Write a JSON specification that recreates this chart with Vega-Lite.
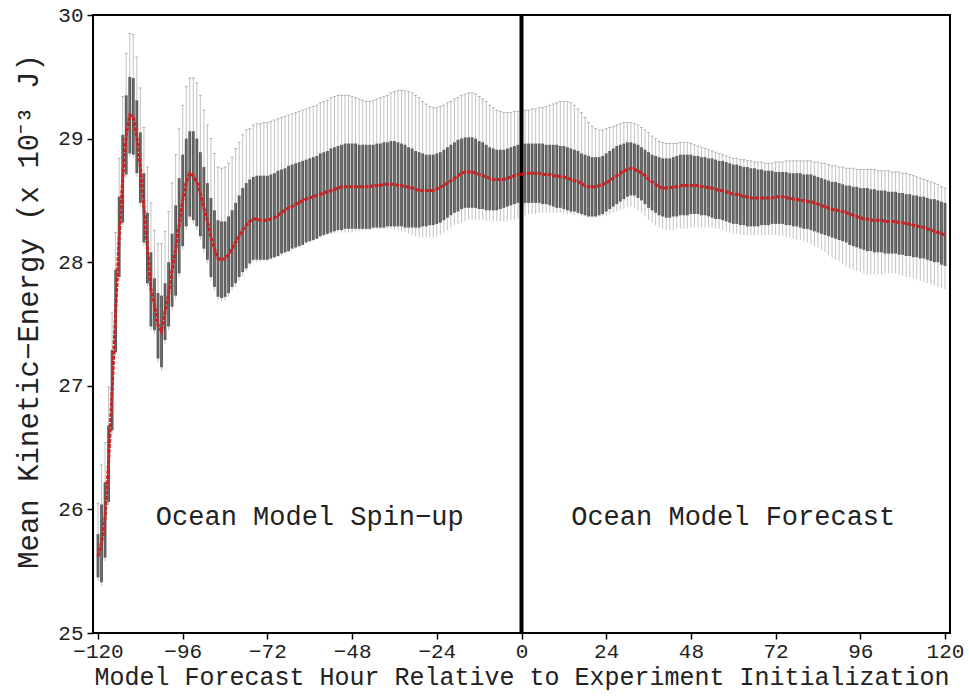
{
  "$schema": "https://vega.github.io/schema/vega-lite/v6.json",
  "width": 857,
  "height": 618,
  "autosize": {"type": "none"},
  "padding": {"left": 93, "top": 15, "right": 19, "bottom": 63},
  "background": "white",
  "config": {
    "view": {"stroke": "black", "strokeWidth": 2},
    "axis": {
      "grid": false,
      "domain": false,
      "tickColor": "black",
      "tickSize": 6,
      "tickWidth": 1.5,
      "labelFont": "Liberation Mono",
      "labelFontSize": 21,
      "labelColor": "#222",
      "titleFont": "Liberation Mono",
      "titleFontWeight": "normal",
      "titleColor": "#222"
    }
  },
  "datasets": {
    "ke": [
      {"h":-120,"lo":25.42,"q1":25.45,"m":25.62,"q3":25.80,"hi":26.05},
      {"h":-119,"lo":25.38,"q1":25.41,"m":25.73,"q3":26.04,"hi":26.36},
      {"h":-118,"lo":25.58,"q1":25.61,"m":25.93,"q3":26.22,"hi":26.54},
      {"h":-117,"lo":26.03,"q1":26.06,"m":26.38,"q3":26.68,"hi":26.99},
      {"h":-116,"lo":26.61,"q1":26.64,"m":26.97,"q3":27.29,"hi":27.59},
      {"h":-115,"lo":27.24,"q1":27.27,"m":27.60,"q3":27.94,"hi":28.24},
      {"h":-114,"lo":27.85,"q1":27.88,"m":28.20,"q3":28.53,"hi":28.84},
      {"h":-113,"lo":28.29,"q1":28.32,"m":28.68,"q3":29.03,"hi":29.34},
      {"h":-112,"lo":28.68,"q1":28.71,"m":29.03,"q3":29.35,"hi":29.69},
      {"h":-111,"lo":28.85,"q1":28.88,"m":29.19,"q3":29.50,"hi":29.85},
      {"h":-110,"lo":28.84,"q1":28.87,"m":29.18,"q3":29.49,"hi":29.84},
      {"h":-109,"lo":28.69,"q1":28.72,"m":29.01,"q3":29.31,"hi":29.66},
      {"h":-108,"lo":28.45,"q1":28.48,"m":28.77,"q3":29.05,"hi":29.41},
      {"h":-107,"lo":28.13,"q1":28.16,"m":28.44,"q3":28.72,"hi":29.09},
      {"h":-106,"lo":27.80,"q1":27.83,"m":28.12,"q3":28.40,"hi":28.77},
      {"h":-105,"lo":27.45,"q1":27.48,"m":27.78,"q3":28.08,"hi":28.48},
      {"h":-104,"lo":27.42,"q1":27.45,"m":27.66,"q3":27.87,"hi":28.26},
      {"h":-103,"lo":27.19,"q1":27.22,"m":27.49,"q3":27.75,"hi":28.15},
      {"h":-102,"lo":27.12,"q1":27.15,"m":27.44,"q3":27.73,"hi":28.15},
      {"h":-101,"lo":27.34,"q1":27.37,"m":27.60,"q3":27.83,"hi":28.25},
      {"h":-100,"lo":27.45,"q1":27.48,"m":27.74,"q3":28.00,"hi":28.41},
      {"h":-99,"lo":27.61,"q1":27.64,"m":27.94,"q3":28.23,"hi":28.64},
      {"h":-98,"lo":27.70,"q1":27.73,"m":28.10,"q3":28.46,"hi":28.87},
      {"h":-97,"lo":27.88,"q1":27.91,"m":28.30,"q3":28.68,"hi":29.08},
      {"h":-96,"lo":28.10,"q1":28.13,"m":28.50,"q3":28.87,"hi":29.27},
      {"h":-95,"lo":28.26,"q1":28.29,"m":28.65,"q3":29.00,"hi":29.42},
      {"h":-94,"lo":28.34,"q1":28.37,"m":28.72,"q3":29.06,"hi":29.49},
      {"h":-93,"lo":28.31,"q1":28.34,"m":28.70,"q3":29.06,"hi":29.49},
      {"h":-92,"lo":28.26,"q1":28.29,"m":28.65,"q3":29.00,"hi":29.45},
      {"h":-91,"lo":28.18,"q1":28.21,"m":28.55,"q3":28.89,"hi":29.35},
      {"h":-90,"lo":28.08,"q1":28.11,"m":28.44,"q3":28.77,"hi":29.23},
      {"h":-89,"lo":27.99,"q1":28.02,"m":28.33,"q3":28.64,"hi":29.11},
      {"h":-88,"lo":27.85,"q1":27.88,"m":28.20,"q3":28.52,"hi":29.00},
      {"h":-87,"lo":27.77,"q1":27.80,"m":28.11,"q3":28.42,"hi":28.88},
      {"h":-86,"lo":27.69,"q1":27.72,"m":28.03,"q3":28.34,"hi":28.77},
      {"h":-85,"lo":27.68,"q1":27.71,"m":28.02,"q3":28.33,"hi":28.76},
      {"h":-84,"lo":27.69,"q1":27.72,"m":28.03,"q3":28.33,"hi":28.77},
      {"h":-83,"lo":27.72,"q1":27.75,"m":28.06,"q3":28.37,"hi":28.80},
      {"h":-82,"lo":27.77,"q1":27.80,"m":28.11,"q3":28.42,"hi":28.85},
      {"h":-81,"lo":27.80,"q1":27.83,"m":28.16,"q3":28.48,"hi":28.92},
      {"h":-80,"lo":27.85,"q1":27.88,"m":28.21,"q3":28.54,"hi":28.97},
      {"h":-79,"lo":27.89,"q1":27.92,"m":28.26,"q3":28.60,"hi":29.03},
      {"h":-78,"lo":27.93,"q1":27.95,"m":28.30,"q3":28.64,"hi":29.07},
      {"h":-77,"lo":27.97,"q1":27.99,"m":28.33,"q3":28.67,"hi":29.08},
      {"h":-76,"lo":28.00,"q1":28.02,"m":28.35,"q3":28.69,"hi":29.11},
      {"h":-75,"lo":28.00,"q1":28.02,"m":28.35,"q3":28.70,"hi":29.12},
      {"h":-74,"lo":28.00,"q1":28.02,"m":28.34,"q3":28.70,"hi":29.12},
      {"h":-73,"lo":28.01,"q1":28.02,"m":28.34,"q3":28.70,"hi":29.13},
      {"h":-72,"lo":28.01,"q1":28.02,"m":28.34,"q3":28.70,"hi":29.13},
      {"h":-71,"lo":28.02,"q1":28.03,"m":28.35,"q3":28.71,"hi":29.14},
      {"h":-70,"lo":28.03,"q1":28.04,"m":28.36,"q3":28.72,"hi":29.15},
      {"h":-69,"lo":28.04,"q1":28.05,"m":28.38,"q3":28.74,"hi":29.16},
      {"h":-68,"lo":28.05,"q1":28.07,"m":28.40,"q3":28.75,"hi":29.17},
      {"h":-67,"lo":28.07,"q1":28.08,"m":28.42,"q3":28.76,"hi":29.18},
      {"h":-66,"lo":28.08,"q1":28.09,"m":28.44,"q3":28.78,"hi":29.19},
      {"h":-65,"lo":28.10,"q1":28.11,"m":28.45,"q3":28.79,"hi":29.20},
      {"h":-64,"lo":28.11,"q1":28.12,"m":28.47,"q3":28.80,"hi":29.21},
      {"h":-63,"lo":28.12,"q1":28.13,"m":28.48,"q3":28.81,"hi":29.22},
      {"h":-62,"lo":28.14,"q1":28.14,"m":28.50,"q3":28.82,"hi":29.23},
      {"h":-61,"lo":28.15,"q1":28.16,"m":28.51,"q3":28.83,"hi":29.24},
      {"h":-60,"lo":28.16,"q1":28.17,"m":28.52,"q3":28.84,"hi":29.25},
      {"h":-59,"lo":28.17,"q1":28.18,"m":28.53,"q3":28.85,"hi":29.26},
      {"h":-58,"lo":28.19,"q1":28.19,"m":28.54,"q3":28.86,"hi":29.27},
      {"h":-57,"lo":28.20,"q1":28.21,"m":28.55,"q3":28.88,"hi":29.29},
      {"h":-56,"lo":28.21,"q1":28.22,"m":28.56,"q3":28.89,"hi":29.30},
      {"h":-55,"lo":28.22,"q1":28.23,"m":28.57,"q3":28.90,"hi":29.31},
      {"h":-54,"lo":28.23,"q1":28.24,"m":28.58,"q3":28.92,"hi":29.33},
      {"h":-53,"lo":28.23,"q1":28.25,"m":28.59,"q3":28.93,"hi":29.34},
      {"h":-52,"lo":28.24,"q1":28.26,"m":28.60,"q3":28.94,"hi":29.35},
      {"h":-51,"lo":28.24,"q1":28.26,"m":28.61,"q3":28.95,"hi":29.35},
      {"h":-50,"lo":28.24,"q1":28.27,"m":28.61,"q3":28.96,"hi":29.35},
      {"h":-49,"lo":28.24,"q1":28.27,"m":28.61,"q3":28.96,"hi":29.35},
      {"h":-48,"lo":28.24,"q1":28.27,"m":28.61,"q3":28.96,"hi":29.34},
      {"h":-47,"lo":28.25,"q1":28.27,"m":28.61,"q3":28.96,"hi":29.33},
      {"h":-46,"lo":28.25,"q1":28.27,"m":28.61,"q3":28.95,"hi":29.32},
      {"h":-45,"lo":28.26,"q1":28.27,"m":28.61,"q3":28.95,"hi":29.31},
      {"h":-44,"lo":28.26,"q1":28.27,"m":28.61,"q3":28.95,"hi":29.30},
      {"h":-43,"lo":28.26,"q1":28.27,"m":28.61,"q3":28.95,"hi":29.30},
      {"h":-42,"lo":28.27,"q1":28.28,"m":28.62,"q3":28.95,"hi":29.31},
      {"h":-41,"lo":28.27,"q1":28.28,"m":28.62,"q3":28.96,"hi":29.32},
      {"h":-40,"lo":28.27,"q1":28.28,"m":28.62,"q3":28.96,"hi":29.33},
      {"h":-39,"lo":28.27,"q1":28.28,"m":28.63,"q3":28.97,"hi":29.34},
      {"h":-38,"lo":28.27,"q1":28.29,"m":28.63,"q3":28.97,"hi":29.35},
      {"h":-37,"lo":28.27,"q1":28.29,"m":28.63,"q3":28.98,"hi":29.37},
      {"h":-36,"lo":28.26,"q1":28.29,"m":28.63,"q3":28.98,"hi":29.38},
      {"h":-35,"lo":28.26,"q1":28.29,"m":28.62,"q3":28.97,"hi":29.39},
      {"h":-34,"lo":28.25,"q1":28.29,"m":28.62,"q3":28.96,"hi":29.39},
      {"h":-33,"lo":28.24,"q1":28.28,"m":28.61,"q3":28.95,"hi":29.39},
      {"h":-32,"lo":28.23,"q1":28.28,"m":28.61,"q3":28.93,"hi":29.38},
      {"h":-31,"lo":28.22,"q1":28.28,"m":28.60,"q3":28.92,"hi":29.37},
      {"h":-30,"lo":28.21,"q1":28.28,"m":28.59,"q3":28.90,"hi":29.35},
      {"h":-29,"lo":28.20,"q1":28.28,"m":28.58,"q3":28.89,"hi":29.33},
      {"h":-28,"lo":28.20,"q1":28.29,"m":28.58,"q3":28.88,"hi":29.30},
      {"h":-27,"lo":28.20,"q1":28.29,"m":28.58,"q3":28.87,"hi":29.28},
      {"h":-26,"lo":28.20,"q1":28.30,"m":28.58,"q3":28.87,"hi":29.26},
      {"h":-25,"lo":28.20,"q1":28.30,"m":28.58,"q3":28.87,"hi":29.25},
      {"h":-24,"lo":28.21,"q1":28.31,"m":28.59,"q3":28.88,"hi":29.25},
      {"h":-23,"lo":28.22,"q1":28.32,"m":28.61,"q3":28.89,"hi":29.26},
      {"h":-22,"lo":28.24,"q1":28.34,"m":28.62,"q3":28.91,"hi":29.27},
      {"h":-21,"lo":28.26,"q1":28.36,"m":28.64,"q3":28.93,"hi":29.29},
      {"h":-20,"lo":28.28,"q1":28.38,"m":28.66,"q3":28.95,"hi":29.30},
      {"h":-19,"lo":28.30,"q1":28.40,"m":28.68,"q3":28.97,"hi":29.32},
      {"h":-18,"lo":28.31,"q1":28.41,"m":28.70,"q3":28.99,"hi":29.33},
      {"h":-17,"lo":28.32,"q1":28.43,"m":28.72,"q3":29.00,"hi":29.35},
      {"h":-16,"lo":28.33,"q1":28.44,"m":28.73,"q3":29.01,"hi":29.36},
      {"h":-15,"lo":28.34,"q1":28.44,"m":28.73,"q3":29.01,"hi":29.37},
      {"h":-14,"lo":28.34,"q1":28.44,"m":28.73,"q3":29.01,"hi":29.37},
      {"h":-13,"lo":28.34,"q1":28.44,"m":28.72,"q3":29.00,"hi":29.36},
      {"h":-12,"lo":28.34,"q1":28.43,"m":28.71,"q3":28.98,"hi":29.34},
      {"h":-11,"lo":28.34,"q1":28.43,"m":28.70,"q3":28.97,"hi":29.32},
      {"h":-10,"lo":28.33,"q1":28.42,"m":28.69,"q3":28.95,"hi":29.30},
      {"h":-9,"lo":28.33,"q1":28.42,"m":28.68,"q3":28.93,"hi":29.27},
      {"h":-8,"lo":28.33,"q1":28.42,"m":28.67,"q3":28.92,"hi":29.25},
      {"h":-7,"lo":28.33,"q1":28.42,"m":28.67,"q3":28.91,"hi":29.23},
      {"h":-6,"lo":28.33,"q1":28.43,"m":28.67,"q3":28.91,"hi":29.22},
      {"h":-5,"lo":28.33,"q1":28.44,"m":28.67,"q3":28.91,"hi":29.21},
      {"h":-4,"lo":28.33,"q1":28.45,"m":28.68,"q3":28.92,"hi":29.21},
      {"h":-3,"lo":28.34,"q1":28.46,"m":28.69,"q3":28.93,"hi":29.21},
      {"h":-2,"lo":28.34,"q1":28.47,"m":28.70,"q3":28.94,"hi":29.22},
      {"h":-1,"lo":28.35,"q1":28.48,"m":28.71,"q3":28.95,"hi":29.22},
      {"h":0,"lo":28.35,"q1":28.48,"m":28.71,"q3":28.96,"hi":29.22},
      {"h":1,"lo":28.38,"q1":28.48,"m":28.72,"q3":28.96,"hi":29.23},
      {"h":2,"lo":28.39,"q1":28.48,"m":28.72,"q3":28.96,"hi":29.23},
      {"h":3,"lo":28.39,"q1":28.48,"m":28.72,"q3":28.96,"hi":29.24},
      {"h":4,"lo":28.39,"q1":28.48,"m":28.72,"q3":28.96,"hi":29.24},
      {"h":5,"lo":28.40,"q1":28.48,"m":28.72,"q3":28.96,"hi":29.25},
      {"h":6,"lo":28.40,"q1":28.47,"m":28.71,"q3":28.96,"hi":29.25},
      {"h":7,"lo":28.40,"q1":28.47,"m":28.71,"q3":28.95,"hi":29.26},
      {"h":8,"lo":28.40,"q1":28.46,"m":28.71,"q3":28.95,"hi":29.27},
      {"h":9,"lo":28.40,"q1":28.45,"m":28.70,"q3":28.95,"hi":29.28},
      {"h":10,"lo":28.40,"q1":28.44,"m":28.70,"q3":28.95,"hi":29.29},
      {"h":11,"lo":28.40,"q1":28.44,"m":28.69,"q3":28.94,"hi":29.30},
      {"h":12,"lo":28.40,"q1":28.43,"m":28.69,"q3":28.94,"hi":29.30},
      {"h":13,"lo":28.39,"q1":28.42,"m":28.68,"q3":28.93,"hi":29.30},
      {"h":14,"lo":28.39,"q1":28.41,"m":28.67,"q3":28.92,"hi":29.29},
      {"h":15,"lo":28.38,"q1":28.41,"m":28.66,"q3":28.91,"hi":29.27},
      {"h":16,"lo":28.38,"q1":28.40,"m":28.65,"q3":28.90,"hi":29.24},
      {"h":17,"lo":28.37,"q1":28.39,"m":28.64,"q3":28.88,"hi":29.21},
      {"h":18,"lo":28.37,"q1":28.38,"m":28.62,"q3":28.87,"hi":29.17},
      {"h":19,"lo":28.36,"q1":28.37,"m":28.61,"q3":28.86,"hi":29.13},
      {"h":20,"lo":28.36,"q1":28.37,"m":28.61,"q3":28.85,"hi":29.10},
      {"h":21,"lo":28.36,"q1":28.37,"m":28.61,"q3":28.85,"hi":29.08},
      {"h":22,"lo":28.37,"q1":28.38,"m":28.62,"q3":28.85,"hi":29.07},
      {"h":23,"lo":28.37,"q1":28.39,"m":28.63,"q3":28.86,"hi":29.07},
      {"h":24,"lo":28.38,"q1":28.41,"m":28.64,"q3":28.88,"hi":29.08},
      {"h":25,"lo":28.39,"q1":28.43,"m":28.66,"q3":28.90,"hi":29.09},
      {"h":26,"lo":28.40,"q1":28.45,"m":28.68,"q3":28.92,"hi":29.10},
      {"h":27,"lo":28.41,"q1":28.47,"m":28.70,"q3":28.94,"hi":29.11},
      {"h":28,"lo":28.42,"q1":28.49,"m":28.72,"q3":28.95,"hi":29.12},
      {"h":29,"lo":28.43,"q1":28.51,"m":28.74,"q3":28.96,"hi":29.13},
      {"h":30,"lo":28.45,"q1":28.53,"m":28.75,"q3":28.97,"hi":29.13},
      {"h":31,"lo":28.45,"q1":28.54,"m":28.76,"q3":28.97,"hi":29.13},
      {"h":32,"lo":28.44,"q1":28.54,"m":28.75,"q3":28.96,"hi":29.12},
      {"h":33,"lo":28.42,"q1":28.52,"m":28.74,"q3":28.95,"hi":29.11},
      {"h":34,"lo":28.40,"q1":28.50,"m":28.72,"q3":28.93,"hi":29.09},
      {"h":35,"lo":28.37,"q1":28.47,"m":28.70,"q3":28.91,"hi":29.07},
      {"h":36,"lo":28.34,"q1":28.44,"m":28.67,"q3":28.89,"hi":29.05},
      {"h":37,"lo":28.32,"q1":28.42,"m":28.65,"q3":28.87,"hi":29.02},
      {"h":38,"lo":28.30,"q1":28.40,"m":28.63,"q3":28.86,"hi":29.00},
      {"h":39,"lo":28.28,"q1":28.38,"m":28.61,"q3":28.85,"hi":28.98},
      {"h":40,"lo":28.27,"q1":28.37,"m":28.60,"q3":28.84,"hi":28.97},
      {"h":41,"lo":28.26,"q1":28.36,"m":28.60,"q3":28.84,"hi":28.96},
      {"h":42,"lo":28.26,"q1":28.36,"m":28.60,"q3":28.84,"hi":28.96},
      {"h":43,"lo":28.26,"q1":28.37,"m":28.61,"q3":28.85,"hi":28.96},
      {"h":44,"lo":28.27,"q1":28.37,"m":28.61,"q3":28.86,"hi":28.96},
      {"h":45,"lo":28.27,"q1":28.38,"m":28.62,"q3":28.87,"hi":28.97},
      {"h":46,"lo":28.27,"q1":28.38,"m":28.62,"q3":28.87,"hi":28.97},
      {"h":47,"lo":28.27,"q1":28.38,"m":28.62,"q3":28.87,"hi":28.97},
      {"h":48,"lo":28.28,"q1":28.39,"m":28.62,"q3":28.87,"hi":28.96},
      {"h":49,"lo":28.28,"q1":28.39,"m":28.62,"q3":28.86,"hi":28.95},
      {"h":50,"lo":28.28,"q1":28.39,"m":28.62,"q3":28.86,"hi":28.94},
      {"h":51,"lo":28.28,"q1":28.38,"m":28.61,"q3":28.85,"hi":28.93},
      {"h":52,"lo":28.28,"q1":28.38,"m":28.61,"q3":28.85,"hi":28.92},
      {"h":53,"lo":28.28,"q1":28.37,"m":28.60,"q3":28.84,"hi":28.91},
      {"h":54,"lo":28.28,"q1":28.36,"m":28.60,"q3":28.84,"hi":28.90},
      {"h":55,"lo":28.27,"q1":28.35,"m":28.59,"q3":28.83,"hi":28.89},
      {"h":56,"lo":28.27,"q1":28.35,"m":28.58,"q3":28.82,"hi":28.88},
      {"h":57,"lo":28.26,"q1":28.34,"m":28.58,"q3":28.82,"hi":28.87},
      {"h":58,"lo":28.25,"q1":28.33,"m":28.57,"q3":28.81,"hi":28.86},
      {"h":59,"lo":28.24,"q1":28.32,"m":28.56,"q3":28.80,"hi":28.85},
      {"h":60,"lo":28.23,"q1":28.31,"m":28.55,"q3":28.79,"hi":28.84},
      {"h":61,"lo":28.23,"q1":28.31,"m":28.55,"q3":28.79,"hi":28.84},
      {"h":62,"lo":28.22,"q1":28.30,"m":28.54,"q3":28.78,"hi":28.83},
      {"h":63,"lo":28.22,"q1":28.30,"m":28.53,"q3":28.77,"hi":28.83},
      {"h":64,"lo":28.22,"q1":28.29,"m":28.53,"q3":28.77,"hi":28.82},
      {"h":65,"lo":28.22,"q1":28.29,"m":28.52,"q3":28.76,"hi":28.82},
      {"h":66,"lo":28.22,"q1":28.29,"m":28.52,"q3":28.76,"hi":28.81},
      {"h":67,"lo":28.22,"q1":28.29,"m":28.52,"q3":28.75,"hi":28.81},
      {"h":68,"lo":28.22,"q1":28.30,"m":28.52,"q3":28.75,"hi":28.81},
      {"h":69,"lo":28.22,"q1":28.30,"m":28.52,"q3":28.74,"hi":28.80},
      {"h":70,"lo":28.22,"q1":28.30,"m":28.52,"q3":28.74,"hi":28.80},
      {"h":71,"lo":28.22,"q1":28.31,"m":28.52,"q3":28.74,"hi":28.80},
      {"h":72,"lo":28.22,"q1":28.31,"m":28.53,"q3":28.73,"hi":28.81},
      {"h":73,"lo":28.21,"q1":28.31,"m":28.53,"q3":28.73,"hi":28.81},
      {"h":74,"lo":28.21,"q1":28.31,"m":28.53,"q3":28.73,"hi":28.81},
      {"h":75,"lo":28.20,"q1":28.30,"m":28.52,"q3":28.73,"hi":28.82},
      {"h":76,"lo":28.20,"q1":28.30,"m":28.52,"q3":28.72,"hi":28.82},
      {"h":77,"lo":28.19,"q1":28.29,"m":28.51,"q3":28.72,"hi":28.82},
      {"h":78,"lo":28.18,"q1":28.29,"m":28.51,"q3":28.72,"hi":28.82},
      {"h":79,"lo":28.18,"q1":28.28,"m":28.50,"q3":28.72,"hi":28.82},
      {"h":80,"lo":28.17,"q1":28.27,"m":28.50,"q3":28.71,"hi":28.82},
      {"h":81,"lo":28.16,"q1":28.27,"m":28.49,"q3":28.71,"hi":28.82},
      {"h":82,"lo":28.15,"q1":28.26,"m":28.49,"q3":28.71,"hi":28.82},
      {"h":83,"lo":28.13,"q1":28.25,"m":28.48,"q3":28.70,"hi":28.81},
      {"h":84,"lo":28.12,"q1":28.24,"m":28.47,"q3":28.69,"hi":28.81},
      {"h":85,"lo":28.10,"q1":28.23,"m":28.46,"q3":28.68,"hi":28.80},
      {"h":86,"lo":28.08,"q1":28.22,"m":28.45,"q3":28.67,"hi":28.80},
      {"h":87,"lo":28.06,"q1":28.21,"m":28.44,"q3":28.66,"hi":28.79},
      {"h":88,"lo":28.04,"q1":28.20,"m":28.43,"q3":28.65,"hi":28.78},
      {"h":89,"lo":28.02,"q1":28.19,"m":28.42,"q3":28.65,"hi":28.78},
      {"h":90,"lo":28.01,"q1":28.18,"m":28.42,"q3":28.64,"hi":28.77},
      {"h":91,"lo":27.99,"q1":28.17,"m":28.41,"q3":28.63,"hi":28.77},
      {"h":92,"lo":27.97,"q1":28.16,"m":28.40,"q3":28.62,"hi":28.76},
      {"h":93,"lo":27.95,"q1":28.14,"m":28.39,"q3":28.62,"hi":28.76},
      {"h":94,"lo":27.94,"q1":28.13,"m":28.38,"q3":28.61,"hi":28.76},
      {"h":95,"lo":27.93,"q1":28.12,"m":28.37,"q3":28.61,"hi":28.75},
      {"h":96,"lo":27.92,"q1":28.11,"m":28.36,"q3":28.60,"hi":28.75},
      {"h":97,"lo":27.91,"q1":28.10,"m":28.35,"q3":28.60,"hi":28.75},
      {"h":98,"lo":27.90,"q1":28.09,"m":28.35,"q3":28.60,"hi":28.75},
      {"h":99,"lo":27.90,"q1":28.09,"m":28.34,"q3":28.59,"hi":28.75},
      {"h":100,"lo":27.90,"q1":28.08,"m":28.34,"q3":28.59,"hi":28.75},
      {"h":101,"lo":27.90,"q1":28.08,"m":28.34,"q3":28.58,"hi":28.74},
      {"h":102,"lo":27.90,"q1":28.08,"m":28.34,"q3":28.58,"hi":28.74},
      {"h":103,"lo":27.91,"q1":28.07,"m":28.33,"q3":28.58,"hi":28.74},
      {"h":104,"lo":27.91,"q1":28.07,"m":28.33,"q3":28.57,"hi":28.74},
      {"h":105,"lo":27.91,"q1":28.07,"m":28.33,"q3":28.57,"hi":28.73},
      {"h":106,"lo":27.91,"q1":28.07,"m":28.33,"q3":28.57,"hi":28.73},
      {"h":107,"lo":27.90,"q1":28.06,"m":28.32,"q3":28.56,"hi":28.73},
      {"h":108,"lo":27.89,"q1":28.06,"m":28.32,"q3":28.56,"hi":28.72},
      {"h":109,"lo":27.88,"q1":28.05,"m":28.31,"q3":28.55,"hi":28.72},
      {"h":110,"lo":27.88,"q1":28.05,"m":28.31,"q3":28.55,"hi":28.71},
      {"h":111,"lo":27.87,"q1":28.04,"m":28.30,"q3":28.54,"hi":28.70},
      {"h":112,"lo":27.86,"q1":28.04,"m":28.29,"q3":28.54,"hi":28.69},
      {"h":113,"lo":27.85,"q1":28.03,"m":28.29,"q3":28.53,"hi":28.68},
      {"h":114,"lo":27.84,"q1":28.03,"m":28.28,"q3":28.53,"hi":28.67},
      {"h":115,"lo":27.83,"q1":28.02,"m":28.27,"q3":28.52,"hi":28.66},
      {"h":116,"lo":27.82,"q1":28.01,"m":28.26,"q3":28.51,"hi":28.65},
      {"h":117,"lo":27.81,"q1":28.00,"m":28.25,"q3":28.51,"hi":28.64},
      {"h":118,"lo":27.80,"q1":28.00,"m":28.24,"q3":28.50,"hi":28.63},
      {"h":119,"lo":27.79,"q1":27.98,"m":28.23,"q3":28.49,"hi":28.61},
      {"h":120,"lo":27.78,"q1":27.97,"m":28.22,"q3":28.48,"hi":28.60}
    ],
    "zero": [{"h": 0}],
    "labels": [
      {"h": -60, "v": 25.94, "text": "Ocean Model Spin−up"},
      {"h": 60, "v": 25.94, "text": "Ocean Model Forecast"}
    ]
  },
  "layer": [
    {
      "data": {"name": "ke"},
      "mark": {"type": "bar", "width": 2.8, "color": "#555555", "clip": true},
      "encoding": {
        "x": {
          "field": "h", "type": "quantitative",
          "scale": {"domain": [-120, 120], "nice": false, "zero": false},
          "axis": {
            "values": [-120, -96, -72, -48, -24, 0, 24, 48, 72, 96, 120],
            "format": "d",
            "title": "Model Forecast Hour Relative to Experiment Initialization",
            "titleFontSize": 25,
            "labelPadding": 1,
            "titlePadding": 3,
            "labelFlush": false
          }
        },
        "y": {
          "field": "q1", "type": "quantitative",
          "scale": {"domain": [25, 30], "nice": false, "zero": false},
          "axis": {
            "values": [25, 26, 27, 28, 29, 30],
            "format": "d",
            "title": "Mean Kinetic−Energy (x 10⁻³ J)",
            "titleFontSize": 29,
            "titleY": 296,
            "labelPadding": 4,
            "titlePadding": 14,
            "labelFlush": false
          }
        },
        "y2": {"field": "q3"}
      }
    },
    {
      "data": {"name": "ke"},
      "mark": {"type": "rule", "color": "#888888", "opacity": 0.5, "strokeWidth": 1, "clip": true},
      "encoding": {
        "x": {"field": "h", "type": "quantitative"},
        "y": {"field": "lo", "type": "quantitative"},
        "y2": {"field": "hi"}
      }
    },
    {
      "data": {"name": "ke"},
      "mark": {"type": "tick", "orient": "horizontal", "size": 3, "thickness": 1, "color": "#999999", "opacity": 0.7, "clip": true},
      "encoding": {
        "x": {"field": "h", "type": "quantitative"},
        "y": {"field": "hi", "type": "quantitative"}
      }
    },
    {
      "data": {"name": "zero"},
      "mark": {"type": "rule", "color": "black", "strokeWidth": 4},
      "encoding": {
        "x": {"field": "h", "type": "quantitative"}
      }
    },
    {
      "data": {"name": "ke"},
      "mark": {"type": "line", "color": "#cc2222", "strokeWidth": 3, "strokeDash": [4, 1.2], "clip": true},
      "encoding": {
        "x": {"field": "h", "type": "quantitative"},
        "y": {"field": "m", "type": "quantitative"}
      }
    },
    {
      "data": {"name": "labels"},
      "mark": {"type": "text", "font": "Liberation Mono", "fontSize": 27, "color": "#222222", "align": "center", "baseline": "middle"},
      "encoding": {
        "x": {"field": "h", "type": "quantitative"},
        "y": {"field": "v", "type": "quantitative"},
        "text": {"field": "text"}
      }
    }
  ]
}
